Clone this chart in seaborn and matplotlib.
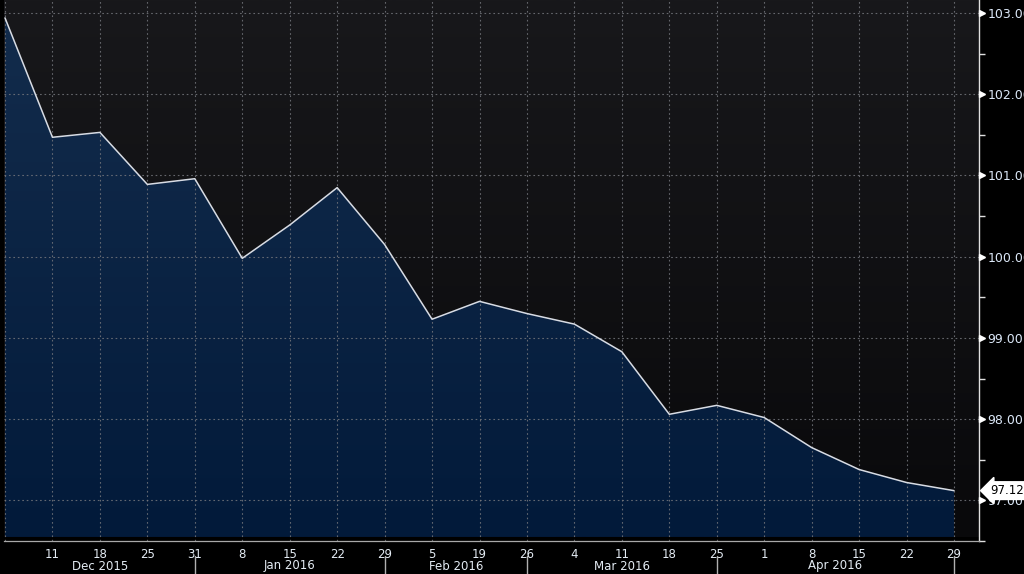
import numpy as np
import pandas as pd
import matplotlib
matplotlib.use("Agg")
import matplotlib.pyplot as plt
import seaborn as sns
from matplotlib.colors import LinearSegmentedColormap
from matplotlib import transforms

sns.set_theme(style="dark")
plt.rcParams['font.family'] = ['DejaVu Sans']

# ---- data ----
dates = ["2015-12-04", "2015-12-11", "2015-12-18", "2015-12-25", "2015-12-31",
         "2016-01-08", "2016-01-15", "2016-01-22", "2016-01-29", "2016-02-05",
         "2016-02-19", "2016-02-26", "2016-03-04", "2016-03-11", "2016-03-18",
         "2016-03-25", "2016-04-01", "2016-04-08", "2016-04-15", "2016-04-22",
         "2016-04-29"]
day_labels = ["", "11", "18", "25", "31", "8", "15", "22", "29", "5", "19", "26",
              "4", "11", "18", "25", "1", "8", "15", "22", "29"]
values = [102.94, 101.47, 101.53, 100.89, 100.96, 99.98, 100.39, 100.85, 100.15,
          99.23, 99.45, 99.30, 99.17, 98.83, 98.06, 98.17, 98.02, 97.65, 97.38,
          97.22, 97.12]
month_names = ["Dec 2015", "Jan 2016", "Feb 2016", "Mar 2016", "Apr 2016"]
month_centers = [2.0, 6.0, 9.5, 13.0, 17.5]
month_separators = [4, 8, 11, 15, 20]
y_ticks = [97, 98, 99, 100, 101, 102, 103]
last_label = "97.12"

df = pd.DataFrame({"idx": np.arange(len(values)), "value": values, "date": dates})

W, H = 1024, 574
fig = plt.figure(figsize=(W / 100, H / 100), dpi=100)
fig.patch.set_facecolor("black")
ax = fig.add_axes([4 / W, 1 - 541 / H, (979 - 4) / W, 541 / H])
ax.patch.set_visible(False)

x0 = -1.0 / 47.45
x1 = 20 + (979 - 954) / 47.45
y0, y1 = 96.55, 103.16
ax.set_xlim(x0, x1)
ax.set_ylim(y0, y1)

# background gradient
bg = LinearSegmentedColormap.from_list("bg", ["#09090b", "#18181b"])
grad = np.linspace(0, 1, 256).reshape(-1, 1)
ax.imshow(grad, cmap=bg, origin="lower", aspect="auto",
          extent=[x0, x1, y0, y1], zorder=0)

# fill gradient clipped by area under curve
poly = ax.fill_between(df["idx"], df["value"], y0, color="none", lw=0, zorder=1)
fillcmap = LinearSegmentedColormap.from_list("fill", ["#021a3a", "#132c4c"])
im = ax.imshow(grad, cmap=fillcmap, origin="lower", aspect="auto",
               extent=[x0, x1, y0, max(values)], zorder=1)
im.set_clip_path(poly.get_paths()[0], transform=ax.transData)

# grid
for xi in df["idx"]:
    ax.axvline(xi, color="#74767c", lw=0.8, ls=(0, (1.5, 2.5)), zorder=2, alpha=0.85)
for yt in y_ticks:
    ax.axhline(yt, color="#74767c", lw=0.8, ls=(0, (1.5, 2.5)), zorder=2, alpha=0.85)

sns.lineplot(data=df, x="idx", y="value", ax=ax, color="#d8dce4", lw=1.1, zorder=3)

# spines
for s in ["top", "left"]:
    ax.spines[s].set_visible(False)
ax.spines["right"].set_color("#e0e0e0")
ax.spines["bottom"].set_color("#a8a8a8")
ax.spines["right"].set_linewidth(1.0)
ax.spines["bottom"].set_linewidth(0.9)

ax.set_xlabel("")
ax.set_ylabel("")

# x ticks
ax.set_xticks(df["idx"][1:])
ax.set_xticklabels(day_labels[1:])
ax.tick_params(axis="x", colors="#c8c8c8", labelcolor="#e4ecf4", length=4,
               width=1, direction="out", labelsize=8.5, pad=1)

# y ticks on right
ax.yaxis.tick_right()
ax.set_yticks(y_ticks)
ax.set_yticklabels([f"{v:.2f}" for v in y_ticks])
ax.set_yticks([v + 0.5 for v in y_ticks[:-1]] + [96.5], minor=True)
ax.tick_params(axis="y", which="major", length=0, labelcolor="#dce8f8",
               labelsize=9, pad=6)
ax.tick_params(axis="y", which="minor", length=4, color="#e0e0e0", width=1,
               direction="out", right=True)
trans_y = transforms.blended_transform_factory(ax.transAxes, ax.transData)
ax.plot([1.0035] * len(y_ticks), y_ticks, marker=">", ls="none", color="white",
        ms=5, transform=trans_y, clip_on=False, zorder=5)

# month labels and separators
trans_x = transforms.blended_transform_factory(ax.transData, fig.transFigure)
for name, c in zip(month_names, month_centers):
    ax.text(c, 8 / H, name, transform=trans_x, ha="center", va="center",
            color="#e4ecf4", fontsize=8.5)
for sp in month_separators:
    ax.plot([sp, sp], [(574 - 556) / H, 0], transform=trans_x, color="#b0b0b0",
            lw=1, clip_on=False)

# last value label
ax.annotate(last_label, xy=(1.0, values[-1]), xycoords=trans_y,
            xytext=(8, 0), textcoords="offset points", ha="left", va="center",
            fontsize=8.5, color="black",
            bbox=dict(boxstyle="larrow,pad=0.2", fc="white", ec="white"),
            annotation_clip=False, zorder=6)

fig.savefig("out.png", dpi=100, facecolor="black")
